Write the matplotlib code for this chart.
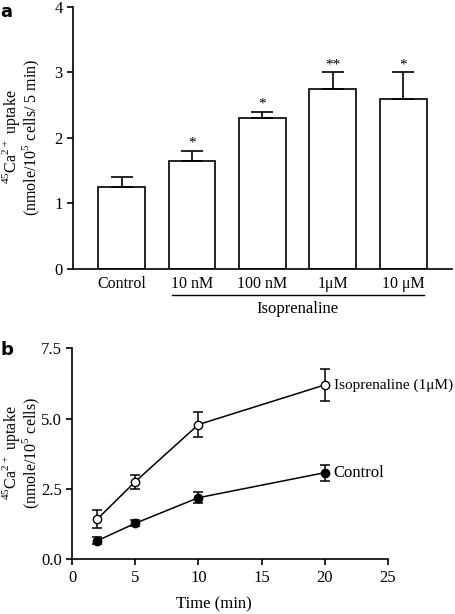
import matplotlib.pyplot as plt

plt.rcParams['font.family'] = ['Liberation Serif', 'DejaVu Serif']
plt.rcParams['mathtext.fontset'] = 'custom'
plt.rcParams['mathtext.rm'] = 'Liberation Serif'

# panel a
conc_labels = ["Control", "10 nM", "100 nM", "1\u03bcM", "10 \u03bcM"]
uptake_5min = [1.25, 1.65, 2.3, 2.75, 2.6]
uptake_5min_err = [0.15, 0.15, 0.1, 0.25, 0.4]
stars = ["", "*", "*", "**", "*"]

# panel b
time_min = [2, 5, 10, 20]
iso_uptake = [1.43, 2.76, 4.79, 6.2]
iso_err = [0.32, 0.25, 0.45, 0.57]
ctrl_uptake = [0.66, 1.28, 2.19, 3.08]
ctrl_err = [0.13, 0.1, 0.2, 0.28]

fig = plt.figure(figsize=(4.56, 6.14), dpi=100)

ax1 = fig.add_axes([0.160, 0.5619, 0.831, 0.4267])
x = list(range(len(conc_labels)))
ax1.bar(x, uptake_5min, width=0.667, color='white', edgecolor='black', linewidth=1.2,
        yerr=[[0] * len(x), uptake_5min_err], error_kw=dict(capsize=8, elinewidth=1.2, capthick=1.2))
for xi, v, e, s in zip(x, uptake_5min, uptake_5min_err, stars):
    if s:
        ax1.text(xi, v + e + 0.02, s, ha='center', va='bottom', fontsize=11)
ax1.set_xlim(-0.69, 4.69)
ax1.set_ylim(0, 4)
ax1.set_yticks([0, 1, 2, 3, 4])
ax1.set_xticks(x)
ax1.set_xticklabels(conc_labels)
ax1.tick_params(axis='x', length=0, pad=5, labelsize=11.5)
ax1.tick_params(axis='y', direction='out', length=4, width=1.2, labelsize=12)
for sp in ['top', 'right']:
    ax1.spines[sp].set_visible(False)
for sp in ['left', 'bottom']:
    ax1.spines[sp].set_linewidth(1.2)
ax1.plot([0.72, 4.29], [-0.40, -0.40], color='black', lw=1, clip_on=False)
ax1.text(2.5, -0.49, "Isoprenaline", ha='center', va='top', fontsize=12)

# y label of panel a, two lines
fig.text(11.5 / 456, 1 - 137 / 614, "$^{45}$Ca$^{2+}$ uptake", rotation=90,
         ha='center', va='center', fontsize=11.5)
fig.text(31 / 456, 1 - 137 / 614, "(nmole/10$^5$ cells/ 5 min)", rotation=90,
         ha='center', va='center', fontsize=11.5)

ax2 = fig.add_axes([0.158, 0.0891, 0.693, 0.3436])
ax2.errorbar(time_min, iso_uptake, yerr=iso_err, color='black', marker='o', mfc='white',
             mec='black', ms=6, lw=1.1, capsize=3.5, elinewidth=1.1, capthick=1.1)
ax2.errorbar(time_min, ctrl_uptake, yerr=ctrl_err, color='black', marker='o', mfc='black',
             mec='black', ms=6, lw=1.1, capsize=3.5, elinewidth=1.1, capthick=1.1)
ax2.text(20.7, iso_uptake[-1], "Isoprenaline (1\u03bcM)", va='center', ha='left', fontsize=11)
ax2.text(20.7, ctrl_uptake[-1], "Control", va='center', ha='left', fontsize=12)
ax2.set_xlim(0, 25)
ax2.set_ylim(0, 7.5)
ax2.set_xticks([0, 5, 10, 15, 20, 25])
ax2.set_yticks([0.0, 2.5, 5.0, 7.5])
ax2.set_yticklabels(["0.0", "2.5", "5.0", "7.5"])
ax2.tick_params(direction='out', length=4, width=1.2, labelsize=12)
for sp in ['top', 'right']:
    ax2.spines[sp].set_visible(False)
for sp in ['left', 'bottom']:
    ax2.spines[sp].set_linewidth(1.2)
ax2.set_xlabel("Time (min)", fontsize=12)
ax2.xaxis.set_label_coords(0.45, -0.175)

# y label of panel b, two lines
fig.text(11.5 / 456, 1 - 453 / 614, "$^{45}$Ca$^{2+}$ uptake", rotation=90,
         ha='center', va='center', fontsize=11.5)
fig.text(31 / 456, 1 - 453 / 614, "(nmole/10$^5$ cells)", rotation=90,
         ha='center', va='center', fontsize=11.5)

fig.text(0.0, 0.995, "a", fontsize=13, fontweight='bold', family='DejaVu Sans', va='top')
fig.text(0.0, 0.445, "b", fontsize=13, fontweight='bold', family='DejaVu Sans', va='top')

fig.savefig("out.png", dpi=100)
